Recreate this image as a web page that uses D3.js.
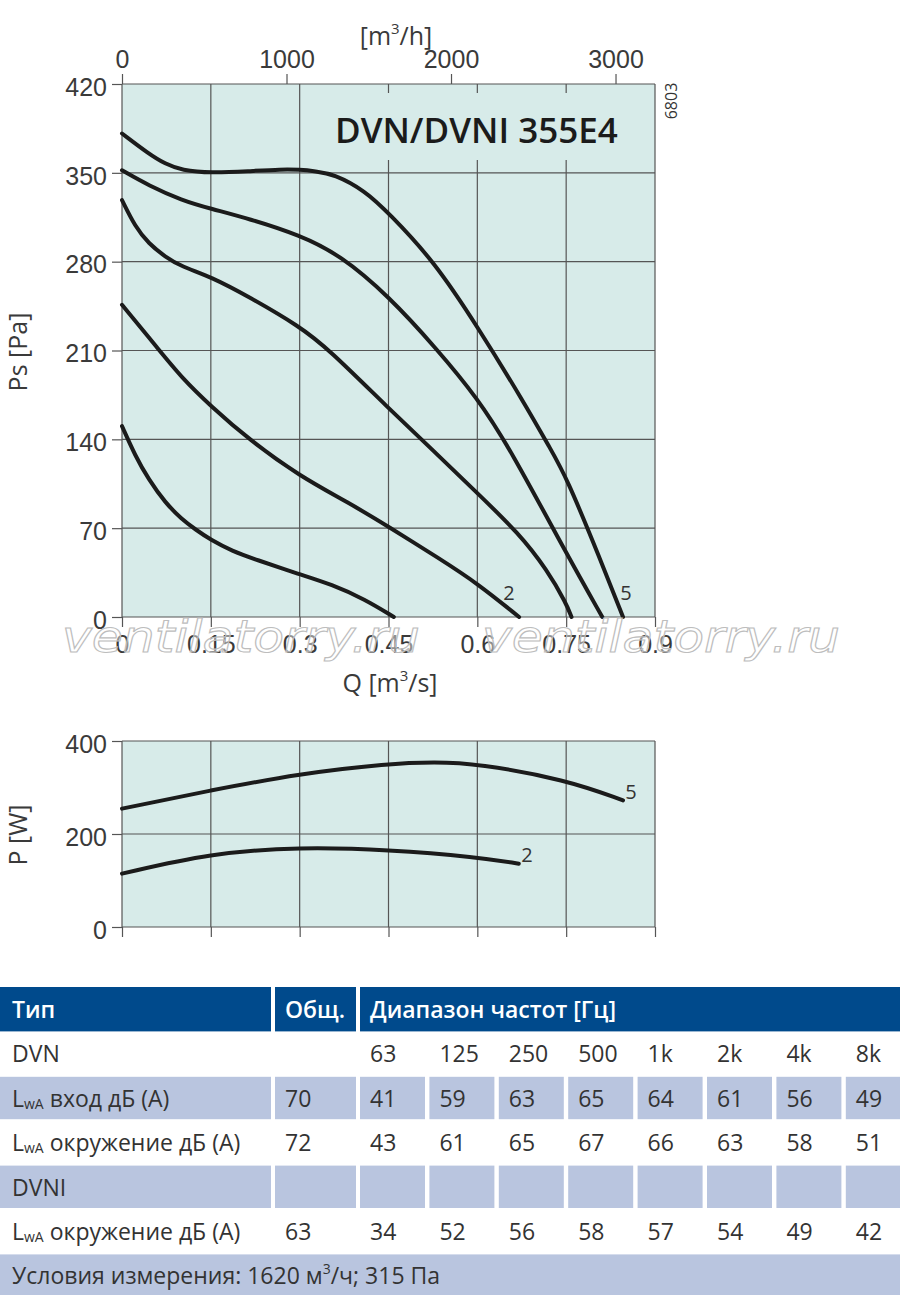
<!DOCTYPE html>
<html>
<head>
<meta charset="utf-8">
<script src="https://d3js.org/d3.v7.min.js"></script>
<style>
body { margin: 0; background: #fff; }
svg { display: block; font-family: "Open Sans", sans-serif; }
.axis text { font-size: 25px; fill: #3a3a3a; }
.axis path { display: none; }
.axis line { stroke: #555; stroke-width: 1.2; }
.grid line { stroke: #555; stroke-width: 1.2; }
.curve { fill: none; stroke: #1b1b1b; stroke-width: 4; stroke-linecap: round; }
.tbl { font-size: 23px; fill: #333; }
</style>
</head>
<body>
<svg width="900" height="1295"></svg>
<script>

// pressure curves, Q [m3/s] -> Ps [Pa]
let ps1 = [[0,150.4],[0.0225,126.8],[0.045,108.4],[0.073,90],[0.101,77],[0.124,69],[0.15,60.7],[0.186,52],[0.225,45.4],[0.3,33.6],[0.354,25.7],[0.41,14],[0.459,0]];
let ps2 = [[0,246],[0.062,210.8],[0.101,188.5],[0.15,166.2],[0.214,140],[0.3,111],[0.383,90],[0.45,71.2],[0.536,46],[0.6,26.6],[0.6705,0]];
let ps3 = [[0,328.5],[0.0225,307.3],[0.045,294.3],[0.073,283.8],[0.101,276],[0.15,268.1],[0.214,252.4],[0.3,229],[0.349,211],[0.45,164.5],[0.527,130.5],[0.6,97.6],[0.67,66],[0.718,37],[0.75,10.8],[0.759,0]];
let ps4 = [[0,352],[0.045,340],[0.101,328.3],[0.15,321.7],[0.214,313.9],[0.3,301],[0.369,285],[0.45,253],[0.532,211],[0.6,172.7],[0.656,132],[0.75,50.3],[0.811,0]];
let ps5 = [[0,381],[0.045,365],[0.073,357],[0.101,352],[0.15,349.8],[0.214,351.3],[0.27,352.8],[0.3,352.5],[0.326,351.3],[0.358,349],[0.41,336],[0.45,318.5],[0.527,280.4],[0.6,229],[0.679,169],[0.724,132],[0.75,110.7],[0.808,45],[0.846,0]];

// power curves, Q [m3/s] -> P [W]
let pw2 = [[0,114.7],[0.15,159],[0.3,172],[0.45,166.3],[0.6,150.5],[0.67,136.2]];
let pw5 = [[0,254.5],[0.15,294],[0.3,329.7],[0.45,351.3],[0.528,354.8],[0.6,351.3],[0.75,316.8],[0.846,272.4]];

let qTicks = [0, 0.15, 0.3, 0.45, 0.6, 0.75, 0.9];
let qhTicks = [0, 1000, 2000, 3000];
let psTicks = [0, 70, 140, 210, 280, 350, 420];
let pTicks = [0, 200, 400];

// sound table
let freqs = ["63","125","250","500","1k","2k","4k","8k"];
let inletTotal = 70;
let inletDVN = [41,59,63,65,64,61,56,49];
let surrTotal = 72;
let surrDVN = [43,61,65,67,66,63,58,51];
let surrTotalI = 63;
let surrDVNI = [34,52,56,58,57,54,49,42];

let svg = d3.select("svg");

let x = d3.scaleLinear().domain([0, 0.9]).range([122, 655]);
let xh = d3.scaleLinear().domain([0, 0.9 * 3600]).range([122, 655]);
let yPs = d3.scaleLinear().domain([0, 420]).range([617, 84]);
let yP = d3.scaleLinear().domain([0, 400]).range([927, 741]);

function panel(y, ticks) {
  let y0 = y.range()[0], y1 = y.range()[1];
  svg.append("rect")
    .attr("x", x(0)).attr("y", y1)
    .attr("width", x(0.9) - x(0)).attr("height", y0 - y1)
    .attr("fill", "#d7ebe9");
  let g = svg.append("g").attr("class", "grid");
  g.selectAll(".v").data(qTicks).enter().append("line")
    .attr("x1", d => x(d)).attr("x2", d => x(d))
    .attr("y1", y0).attr("y2", y1);
  g.selectAll(".h").data(ticks).enter().append("line")
    .attr("x1", x(0)).attr("x2", x(0.9))
    .attr("y1", d => y(d)).attr("y2", d => y(d));
}

function curve(data, y) {
  let line = d3.line()
    .x(d => x(d[0])).y(d => y(d[1]))
    .curve(d3.curveBasis);
  svg.append("path").attr("class", "curve").attr("d", line(data));
}

// ---- pressure chart
panel(yPs, psTicks);

// title box hides the grid under the name
svg.append("rect")
  .attr("x", 312).attr("y", 93).attr("width", 342).attr("height", 67)
  .attr("fill", "#d7ebe9");
svg.append("text")
  .attr("x", 335).attr("y", 143)
  .attr("font-size", 35).attr("font-weight", 600).attr("fill", "#1b1b1b")
  .text("DVN/DVNI 355E4");

[ps1, ps2, ps3, ps4, ps5].forEach(c => curve(c, yPs));

svg.append("text").attr("x", 509).attr("y", 600).attr("text-anchor", "middle")
  .attr("font-size", 20).attr("fill", "#333").text("2");
svg.append("text").attr("x", 626).attr("y", 600).attr("text-anchor", "middle")
  .attr("font-size", 20).attr("fill", "#333").text("5");

svg.append("g").attr("class", "axis")
  .attr("transform", "translate(0,617)")
  .call(d3.axisBottom(x).tickValues(qTicks).tickSize(10).tickPadding(8)
    .tickFormat(d => d3.format("")(d)));
svg.append("g").attr("class", "axis")
  .attr("transform", "translate(0,84)")
  .call(d3.axisTop(xh).tickValues(qhTicks).tickSize(10).tickPadding(6).tickFormat(d3.format("d")));
svg.append("g").attr("class", "axis")
  .attr("transform", "translate(122,0)")
  .call(d3.axisLeft(yPs).tickValues(psTicks).tickSize(10).tickPadding(5))
  .selectAll("text").attr("dy", "0.45em");

svg.append("text")
  .attr("transform", "translate(677,101) rotate(-90)")
  .attr("text-anchor", "middle").attr("font-size", 16).attr("fill", "#333")
  .text("6803");

let unitH = svg.append("text").attr("x", 396).attr("y", 45)
  .attr("text-anchor", "middle").attr("font-size", 25).attr("fill", "#3a3a3a");
unitH.append("tspan").text("[m");
unitH.append("tspan").attr("font-size", 15).attr("dy", -11).text("3");
unitH.append("tspan").attr("dy", 11).text("/h]");

let unitQ = svg.append("text").attr("x", 390).attr("y", 692)
  .attr("text-anchor", "middle").attr("font-size", 25).attr("fill", "#3a3a3a");
unitQ.append("tspan").text("Q [m");
unitQ.append("tspan").attr("font-size", 15).attr("dy", -11).text("3");
unitQ.append("tspan").attr("dy", 11).text("/s]");

svg.append("text")
  .attr("transform", "translate(27,352) rotate(-90)")
  .attr("text-anchor", "middle").attr("font-size", 25).attr("fill", "#3a3a3a")
  .text("Ps [Pa]");

// watermark
[[62, 652], [482, 652]].forEach(p => {
  svg.append("text")
    .attr("x", p[0]).attr("y", p[1])
    .attr("textLength", 358).attr("lengthAdjust", "spacingAndGlyphs")
    .attr("font-family", "DejaVu Sans").attr("font-style", "italic")
    .attr("font-size", 44)
    .attr("fill", "#fff").attr("fill-opacity", 0.45)
    .attr("stroke", "#bdbdbd").attr("stroke-width", 1.1)
    .text("ventilatorry.ru");
});

// ---- power chart
panel(yP, pTicks);
[pw2, pw5].forEach(c => curve(c, yP));

svg.append("text").attr("x", 527).attr("y", 862).attr("text-anchor", "middle")
  .attr("font-size", 20).attr("fill", "#333").text("2");
svg.append("text").attr("x", 631).attr("y", 799).attr("text-anchor", "middle")
  .attr("font-size", 20).attr("fill", "#333").text("5");

svg.append("g").attr("class", "axis")
  .attr("transform", "translate(0,927)")
  .call(d3.axisBottom(x).tickValues(qTicks).tickSize(10).tickFormat(""));
svg.append("g").attr("class", "axis")
  .attr("transform", "translate(122,0)")
  .call(d3.axisLeft(yP).tickValues(pTicks).tickSize(10).tickPadding(5))
  .selectAll("text").attr("dy", "0.45em");

svg.append("text")
  .attr("transform", "translate(27,835) rotate(-90)")
  .attr("text-anchor", "middle").attr("font-size", 25).attr("fill", "#3a3a3a")
  .text("P [W]");

// ---- sound table
let top0 = 987, rowH = 44.4;
let colX = d3.range(8).map(i => 360 + i * 69.4);
let shade = "#b9c5df";

function rowTop(i) { return top0 + i * rowH; }

// header
[[0, 271], [275, 81], [360, 540]].forEach(c => {
  svg.append("rect").attr("x", c[0]).attr("y", rowTop(0))
    .attr("width", c[1]).attr("height", rowH).attr("fill", "#004a8c");
});
[["Тип", 12], ["Общ.", 285], ["Диапазон частот [Гц]", 370]].forEach(h => {
  svg.append("text").attr("x", h[1]).attr("y", rowTop(0) + 31)
    .attr("font-size", 23).attr("font-weight", 600).attr("fill", "#fff").text(h[0]);
});

function shadeRow(i) {
  let y = rowTop(i) + 1, h = rowH - 2;
  svg.append("rect").attr("x", 0).attr("y", y).attr("width", 271).attr("height", h).attr("fill", shade);
  svg.append("rect").attr("x", 275).attr("y", y).attr("width", 81).attr("height", h).attr("fill", shade);
  colX.forEach((cx, k) => {
    let w = k === 7 ? 900 - cx : 65;
    svg.append("rect").attr("x", cx).attr("y", y).attr("width", w).attr("height", h).attr("fill", shade);
  });
}

function lwaLabel(i, word) {
  let t = svg.append("text").attr("class", "tbl").attr("x", 12).attr("y", rowTop(i) + 31);
  t.append("tspan").text("L");
  t.append("tspan").attr("font-size", 14).attr("dy", 2).text("wA");
  t.append("tspan").attr("dy", -2).text(" " + word + " дБ (A)");
}

function values(i, total, vals) {
  let y = rowTop(i) + 31;
  if (total !== null) {
    svg.append("text").attr("class", "tbl").attr("x", 285).attr("y", y).text(total);
  }
  vals.forEach((v, k) => {
    svg.append("text").attr("class", "tbl").attr("x", colX[k] + 10).attr("y", y).text(v);
  });
}

shadeRow(2);
shadeRow(4);
svg.append("rect").attr("x", 0).attr("y", rowTop(6) + 1).attr("width", 900).attr("height", rowH)
  .attr("fill", shade);

svg.append("text").attr("class", "tbl").attr("x", 12).attr("y", rowTop(1) + 31).text("DVN");
values(1, null, freqs);
lwaLabel(2, "вход");
values(2, inletTotal, inletDVN);
lwaLabel(3, "окружение");
values(3, surrTotal, surrDVN);
svg.append("text").attr("class", "tbl").attr("x", 12).attr("y", rowTop(4) + 31).text("DVNI");
lwaLabel(5, "окружение");
values(5, surrTotalI, surrDVNI);

let cond = svg.append("text").attr("class", "tbl").attr("x", 12).attr("y", rowTop(6) + 31);
cond.append("tspan").text("Условия измерения: 1620 м");
cond.append("tspan").attr("font-size", 14).attr("dy", -10).text("3");
cond.append("tspan").attr("dy", 10).text("/ч; 315 Па");

</script>
</body>
</html>
